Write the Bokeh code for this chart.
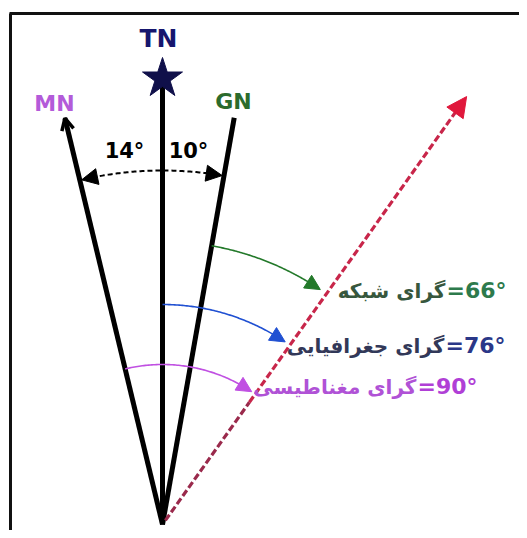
import numpy as np
from bokeh.plotting import figure
from bokeh.models import Range1d, Arrow, NormalHead, OpenHead
from bokeh.core.properties import value
from bokeh.embed import file_html
from bokeh.resources import INLINE

# ---------------- data ----------------
north_names = ["MN", "TN", "GN"]
north_colors = ["#b35bd9", "#16166e", "#2c6b2c"]
north_draw_deg = [-13.5, 0.0, 10.0]      # drawn directions, clockwise from TN
north_len = [418, 446, 413]
decl_labels = ["14°", "10°"]             # MN-TN, TN-GN
bearing_values = [66, 76, 90]
bearing_names = ["گرای شبکه", "گرای جغرافیایی", "گرای مغناطیسی"]
bearing_refs = ["GN", "TN", "MN"]
bearing_radius = [283, 220, 160]
bearing_arc_colors = ["#23792a", "#2050d2", "#c050e2"]
bearing_name_colors = ["#37573d", "#323858", "#b052d6"]
bearing_num_colors = ["#2d7a4c", "#2a3788", "#b03fd6"]
target_deg = 35.4
target_len = 525
FONT = value("DejaVu Sans")


def pol(deg, r):
    a = np.radians(deg)
    return r * np.sin(a), r * np.cos(a)


p = figure(width=519, height=530, output_backend="svg", toolbar_location=None,
           x_range=Range1d(-162, 357), y_range=Range1d(-6, 524),
           x_axis_type=None, y_axis_type=None, min_border=0,
           outline_line_color=None, background_fill_color="white")
p.grid.visible = False

# frame (top and left edges visible)
p.line([-153, 357], [511, 511], line_color="#111111", line_width=3)
p.line([-152, -152], [511, -6], line_color="#111111", line_width=3)

# north lines
ang = dict(zip(north_names, north_draw_deg))
for name, d, L, c in zip(north_names, north_draw_deg, north_len, north_colors):
    x, y = pol(d, L)
    p.line([0, x], [0, y], line_color="black", line_width=5)
    if name == "MN":
        x0, y0 = pol(d, L - 10)
        p.add_layout(Arrow(x_start=x0, y_start=y0, x_end=x, y_end=y, line_alpha=0,
                           end=OpenHead(size=12, line_width=3.5, line_color="black")))
    if name == "TN":
        p.scatter([x], [y], marker="star", size=42, fill_color="#10104a",
                  line_color="#10104a")

label_pos = {"MN": (-108, 421), "TN": (-4, 486), "GN": (71, 423)}
size_map = {"MN": "22px", "TN": "25px", "GN": "22px"}
for name, c in zip(north_names, north_colors):
    x, y = label_pos[name]
    p.text([x], [y], text=[name], text_align="center", text_baseline="middle",
           text_font=FONT, text_font_style="bold", text_font_size=size_map[name],
           text_color=c)

# declination dashed arc with heads at both ends
R = 354
a = np.linspace(ang["MN"] + 2.0, ang["GN"] - 1.8, 80)
ax, ay = pol(a, R)
p.line(ax, ay, line_color="black", line_width=2, line_dash="5 3")
for tip, back in [(ang["MN"] + 0.3, ang["MN"] + 3.0), (ang["GN"] - 0.3, ang["GN"] - 3.0)]:
    xs, ys = pol(back, R)
    xe, ye = pol(tip, R)
    p.add_layout(Arrow(x_start=xs, y_start=ys, x_end=xe, y_end=ye, line_alpha=0,
                       end=NormalHead(size=16, fill_color="black", line_color="black")))
p.text([-38, 26], [374, 374], text=decl_labels, text_align="center",
       text_baseline="middle", text_font=FONT, text_font_style="bold",
       text_font_size="21px", text_color="black")

# target (bearing) dashed line: darker near the origin, red further out
tx, ty = pol(target_deg, target_len)
sx, sy = pol(target_deg, 5)
mx, my = pol(target_deg, 150)
p.line([sx, mx], [sy, my], line_color="#9a2a4c", line_width=3.2, line_dash="7 3")
p.line([mx, tx * 0.97], [my, ty * 0.97], line_color="#c8264a", line_width=3.2,
       line_dash="7 3")
bx, by = pol(target_deg, target_len - 20)
p.add_layout(Arrow(x_start=bx, y_start=by, x_end=tx, y_end=ty, line_alpha=0,
                   end=NormalHead(size=20, fill_color="#e0183c", line_color="#e0183c")))

# bearing arcs
text_pos = [(284, 234), (283, 179), (255, 138)]
for val, nm, ref, r, ac, nc, vc, (tx0, ty0) in zip(
        bearing_values, bearing_names, bearing_refs, bearing_radius,
        bearing_arc_colors, bearing_name_colors, bearing_num_colors, text_pos):
    a0 = ang[ref]
    a1 = target_deg - 1.5
    aa = np.linspace(a0, a1 - 2.5, 80)
    x, y = pol(aa, r)
    p.line(x, y, line_color=ac, line_width=1.6)
    xs, ys = pol(a1 - 3.5, r)
    xe, ye = pol(a1, r)
    p.add_layout(Arrow(x_start=xs, y_start=ys, x_end=xe, y_end=ye, line_alpha=0,
                       end=NormalHead(size=15, fill_color=ac, line_color=ac)))
    p.text([tx0 - 1], [ty0], text=[nm], text_align="right", text_baseline="middle",
           text_font=FONT, text_font_style="bold", text_font_size="20px",
           text_color=nc)
    p.text([tx0], [ty0], text=[f"={val}°"], text_align="left", text_baseline="middle",
           text_font=FONT, text_font_style="bold", text_font_size="22px",
           text_color=vc)

open("out.html", "w").write(file_html(p, INLINE))
